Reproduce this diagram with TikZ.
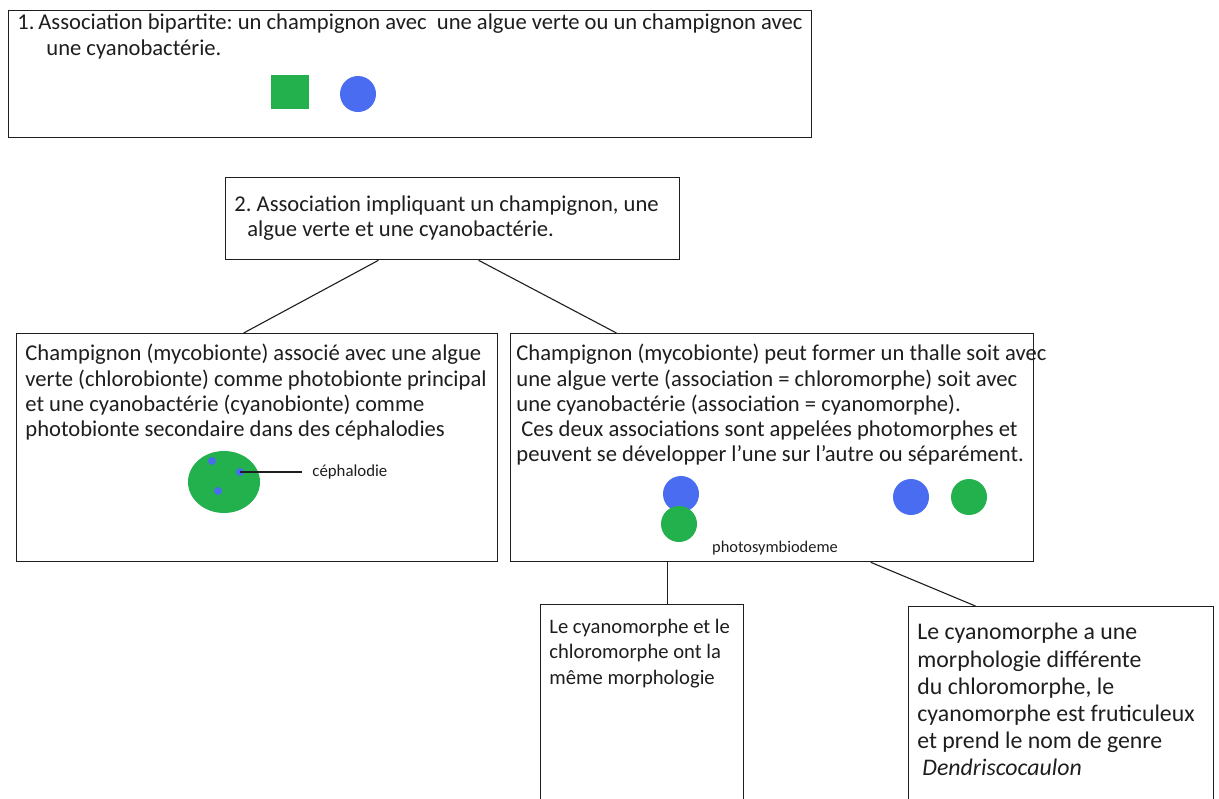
\documentclass[tikz,border=0pt]{standalone}
\usepackage{fontspec}
\setmainfont{Carlito}
\usetikzlibrary{calc,positioning,shapes.geometric}
\definecolor{ink}{HTML}{1E1E1E}
\definecolor{algue}{HTML}{22B14C}
\definecolor{cyano}{HTML}{4A6CF0}
\definecolor{paper}{HTML}{FFFFFF}
\frenchspacing
\tikzset{
  boite/.style={draw=ink,line width=0.65pt,anchor=north west,inner sep=0pt},
  texte/.style={anchor=north west,inner sep=0pt,align=left,text=ink,font=\fontsize{11.3}{12.6}\selectfont},
  menutexte/.style={texte,font=\fontsize{10.3}{12.6}\selectfont},
  grandtexte/.style={texte,font=\fontsize{11.9}{13.6}\selectfont},
  petit/.style={inner sep=0pt,text=ink,font=\fontsize{8.4}{9}\selectfont},
  lien/.style={draw=ink,line width=0.55pt},
  cellule/.style={circle,inner sep=0pt,minimum size=18pt},
  point/.style={circle,fill=cyano,inner sep=0pt,minimum size=4pt}
}
\begin{document}
\begin{tikzpicture}[x=0.5pt,y=-0.5pt]
  \useasboundingbox (0,0) rectangle (1219,798);
  \fill[paper] (0,0) rectangle (1219,798);
  \clip (0,0) rectangle (1219,798);
  % boxes
  \node[boite,minimum width=401.5pt,minimum height=63.5pt] (b1) at (8,10) {};
  \node[boite,minimum width=227pt,minimum height=41pt] (b2) at (225,177) {};
  \node[boite,minimum width=240.5pt,minimum height=114pt] (b3) at (16,333) {};
  \node[boite,minimum width=261.5pt,minimum height=114pt] (b4) at (510,333) {};
  \node[boite,minimum width=101.5pt,minimum height=110pt] (b5) at (540,604) {};
  \node[boite,minimum width=152.5pt,minimum height=110pt] (b6) at (908,606) {};
  % texts
  \node[texte] (t1) at (17,13) {\makebox[10.5pt][l]{1.}Association bipartite: un champignon avec \ une algue verte ou un champignon avec\\[0.6pt]
    \hspace*{14.5pt}une cyanobactérie.};
  \node[texte] (t2) at (234,195) {2. Association impliquant un champignon, une\\
    \hspace*{6.5pt}algue verte et une cyanobactérie.};
  \node[texte] (t3) at (25,344) {Champignon (mycobionte) associé avec une algue\\
    verte (chlorobionte) comme photobionte principal\\
    et une cyanobactérie (cyanobionte) comme\\
    photobionte secondaire dans des céphalodies};
  \node[texte] (t4) at (516,344) {Champignon (mycobionte) peut former un thalle soit avec\\
    une algue verte (association = chloromorphe) soit avec\\
    une cyanobactérie (association = cyanomorphe).\\
    \hspace*{2.5pt}Ces deux associations sont appelées photomorphes et\\
    peuvent se développer l'une sur l'autre ou séparément.};
  \node[menutexte] (t5) at (549,619) {Le cyanomorphe et le\\
    chloromorphe ont la\\
    même morphologie};
  \node[grandtexte] (t6) at (917,623) {Le cyanomorphe a une\\
    morphologie différente\\
    du chloromorphe, le\\
    cyanomorphe est fruticuleux\\
    et prend le nom de genre\\
    \hspace*{2.5pt}\textit{Dendriscocaulon}};
  % partners, box 1
  \node[fill=algue,inner sep=0pt,minimum width=19pt,minimum height=17pt] (carre) at (290,92) {};
  \node[cellule,fill=cyano] (rond) at (358,94) {};
  % thallus with cephalodia, box 3
  \node[ellipse,fill=algue,inner sep=0pt,minimum width=36pt,minimum height=31pt] (thalle) at (224,482) {};
  \node[point] (p1) at (212,461) {};
  \node[point] (p2) at (240,472) {};
  \node[point] (p3) at (218,491) {};
  \node[petit,anchor=west] (ceph) at (312,472) {céphalodie};
  \draw[lien] (p2.center) -- (ceph.west -| 302,0);
  % photomorphs, box 4
  \node[cellule,fill=cyano] (bleu1) at (681,494) {};
  \node[cellule,fill=algue] (vert1) at (679,524) {};
  \node[cellule,fill=cyano] (bleu2) at (911,497) {};
  \node[cellule,fill=algue] (vert2) at (969,497) {};
  \node[petit,font=\fontsize{8.2}{9}\selectfont] (photo) at (775,548) {photosymbiodeme};
  % connectors
  \draw[lien] ($(b2.south west)!0.337!(b2.south east)$) -- ($(b3.north west)!0.472!(b3.north east)$);
  \draw[lien] ($(b2.south west)!0.557!(b2.south east)$) -- ($(b4.north west)!0.203!(b4.north east)$);
  \coordinate (c45) at ($(b5.north west)!0.626!(b5.north east)$);
  \draw[lien] (c45 |- b4.south) -- (c45);
  \draw[lien] ($(b4.south west)!0.688!(b4.south east)$) -- ($(b6.north west)!0.22!(b6.north east)$);
\end{tikzpicture}
\end{document}
